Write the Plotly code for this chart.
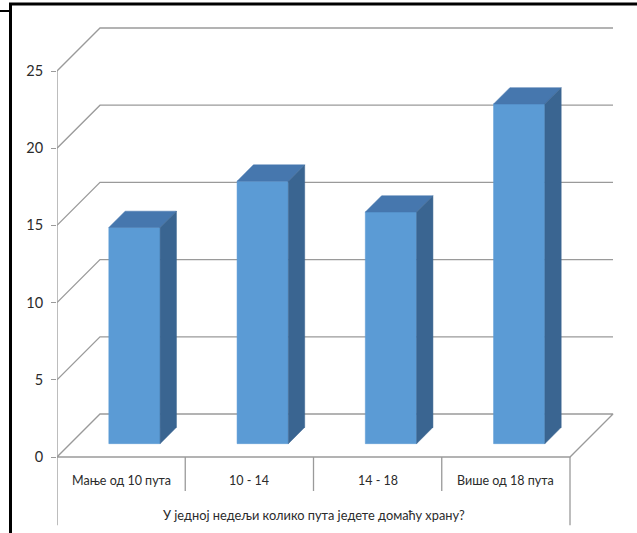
import plotly.graph_objects as go

# Survey answers: how many times a week homemade food is eaten
categories = ["Мање од 10 пута", "10 - 14", "14 - 18", "Више од 18 пута"]
counts = [14, 17, 15, 22]
y_ticks = [0, 5, 10, 15, 20, 25]
axis_title = "У једној недељи колико пута једете домаћу храну?"

# Canvas and oblique projection settings (pixels)
W, H = 637, 533
LEFT = 57            # x pixel of the front value axis
FLOOR_PX = 457       # y pixel of value 0 on the front plane
CAT_PX = 128.25      # pixel width of one category
UNIT_PX = 15.44      # pixels per value unit
DEPTH_PX = 43        # oblique shift of the back wall (right and up)

DX = DEPTH_PX / CAT_PX    # depth shift in x data units
DY = DEPTH_PX / UNIT_PX   # depth shift in y data units
n = len(categories)

x_max = (W - LEFT) / CAT_PX
y_top = FLOOR_PX / UNIT_PX
y_bot = -(H - FLOOR_PX) / UNIT_PX

GRID = "#9a9a9a"
FRONT = "#5b9bd5"
TOP = "#4677ae"
SIDE = "#3a6591"
TEXT = "#2b2b2b"
FONT = "Lato, Liberation Sans, sans-serif"


def proj(x, v, z):
    """Project (category position, value, depth 0..1) onto the 2D axes."""
    return x + z * DX, v + z * DY


fig = go.Figure()


def line(points, color=GRID, width=1.3):
    xs, ys = zip(*[proj(*p) for p in points])
    fig.add_trace(go.Scatter(x=list(xs), y=list(ys), mode="lines",
                             line=dict(color=color, width=width),
                             hoverinfo="skip", showlegend=False))


def face(points, color):
    xs, ys = zip(*[proj(*p) for p in points])
    fig.add_trace(go.Scatter(x=list(xs) + [xs[0]], y=list(ys) + [ys[0]],
                             mode="lines", fill="toself", fillcolor=color,
                             line=dict(color=color, width=0.5),
                             hoverinfo="skip", showlegend=False))


# Floor outline
line([(0, 0, 0), (n, 0, 0), (n, 0, 1), (0, 0, 1), (0, 0, 0)])
# Back-wall gridlines with their diagonal side-wall segments
for v in y_ticks[1:]:
    line([(0, v, 0), (0, v, 1), (n, v, 1)])

# Front value axis, continuing down through the category label band
line([(0, y_ticks[-1], 0), (0, y_bot + 0.5, 0)])
line([(n, 0, 0), (n, y_bot + 0.5, 0)])
for i in range(1, n):
    line([(i, 0, 0), (i, -2.2, 0)])

# 3D bars
BAR_W = 0.4
Z0, Z1 = 0.31, 0.69
for i, v in enumerate(counts):
    x0 = i + 0.5 - BAR_W / 2
    x1 = i + 0.5 + BAR_W / 2
    face([(x0, 0, Z0), (x1, 0, Z0), (x1, v, Z0), (x0, v, Z0)], FRONT)
    face([(x0, v, Z0), (x1, v, Z0), (x1, v, Z1), (x0, v, Z1)], TOP)
    face([(x1, 0, Z0), (x1, 0, Z1), (x1, v, Z1), (x1, v, Z0)], SIDE)

annotations = [
    dict(x=i + 0.5, y=-1.55, text=c, showarrow=False, xref="x", yref="y",
         font=dict(size=12.5, color=TEXT, family=FONT))
    for i, c in enumerate(categories)
]
annotations.append(dict(x=n / 2, y=-3.76, text=axis_title, showarrow=False,
                        xref="x", yref="y",
                        font=dict(size=12.8, color=TEXT, family=FONT)))


def px_to_paper_x(px):
    return (px - LEFT) / (W - LEFT)


def py_to_paper_y(py):
    return 1 - py / H


# Black frame around the chart
frame = [
    dict(type="line", xref="paper", yref="paper",
         x0=px_to_paper_x(9), x1=px_to_paper_x(W + 2),
         y0=py_to_paper_y(4), y1=py_to_paper_y(4),
         line=dict(color="black", width=3)),
    dict(type="line", xref="paper", yref="paper",
         x0=px_to_paper_x(10.5), x1=px_to_paper_x(10.5),
         y0=py_to_paper_y(3), y1=py_to_paper_y(H + 2),
         line=dict(color="black", width=3)),
    dict(type="line", xref="paper", yref="paper",
         x0=px_to_paper_x(-2), x1=px_to_paper_x(10),
         y0=py_to_paper_y(11), y1=py_to_paper_y(11),
         line=dict(color="black", width=2)),
]

fig.update_layout(
    width=W, height=H,
    margin=dict(l=LEFT, r=0, t=0, b=0),
    paper_bgcolor="white", plot_bgcolor="white",
    showlegend=False,
    annotations=annotations,
    shapes=frame,
    xaxis=dict(range=[0, x_max], visible=False, fixedrange=True),
    yaxis=dict(range=[y_bot, y_top], tickvals=y_ticks, ticks="outside",
               ticklen=5, tickcolor=GRID, tickwidth=1.2,
               showgrid=False, zeroline=False, showline=False,
               ticklabelstandoff=5,
               tickfont=dict(size=14.5, color=TEXT, family=FONT),
               fixedrange=True),
)

fig.write_html("out.html")
